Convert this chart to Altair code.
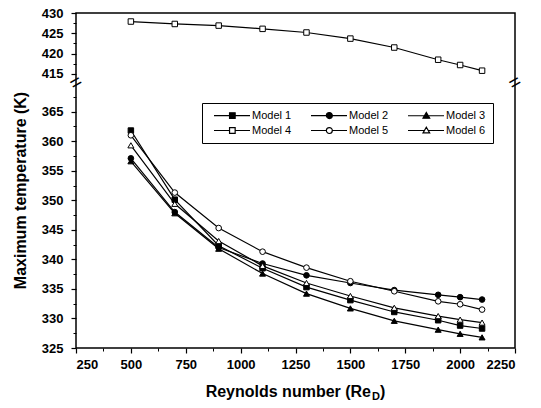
import altair as alt
import pandas as pd

# ---------------- data ----------------
re_vals = [500, 700, 900, 1100, 1300, 1500, 1700, 1900, 2000, 2100]
models = ["Model 1", "Model 2", "Model 3", "Model 4", "Model 5", "Model 6"]
model1 = [361.8, 350.1, 342.3, 338.5, 335.3, 333.1, 331.1, 329.7, 328.8, 328.3]
model2 = [357.1, 348.0, 342.0, 339.3, 337.3, 336.0, 334.8, 334.0, 333.6, 333.2]
model3 = [356.6, 347.8, 341.8, 337.6, 334.2, 331.7, 329.6, 328.1, 327.4, 326.8]
model4 = [427.9, 427.3, 426.9, 426.1, 425.2, 423.7, 421.5, 418.5, 417.2, 415.8]
model5 = [361.0, 351.3, 345.3, 341.3, 338.6, 336.3, 334.6, 332.9, 332.4, 331.5]
model6 = [359.3, 349.4, 343.1, 338.9, 336.0, 333.8, 331.8, 330.4, 329.8, 329.3]

x_ticks = [250, 500, 750, 1000, 1250, 1500, 1750, 2000, 2250]
x_minor = [375, 625, 875, 1125, 1375, 1625, 1875, 2125]
y_ticks = [325, 330, 335, 340, 345, 350, 355, 360, 365, 415, 420, 425, 430]
y_minor = [327.5, 332.5, 337.5, 342.5, 347.5, 352.5, 357.5, 362.5, 367.5,
           417.5, 422.5, 427.5]
x_title = ["Reynolds number (Re", "D", ")"]
y_title = "Maximum temperature (K)"

series = [model1, model2, model3, model4, model5, model6]
rows = []
for m, vals in zip(models, series):
    for r, v in zip(re_vals, vals):
        rows.append({"Re": r, "T": v, "Model": m})
df = pd.DataFrame(rows)

# ---------------- styles ----------------
W, H = 439, 335
FONT = "Liberation Sans"
x_domain = [250, 2250]
# broken y axis: lower segment 325-369, upper 414-430
y_domain = [325, 369, 414, 430]
y_range = [H, 75, 65, 0]
gap_mid = (y_domain[1] + y_domain[2]) / 2

xscale = alt.Scale(domain=x_domain, nice=False, zero=False)
yscale = alt.Scale(domain=y_domain, range=y_range, nice=False, zero=False)

marker_shapes = ["square", "circle", "triangle-up", "square", "circle", "triangle-up"]
marker_fills = ["black", "black", "black", "white", "white", "white"]
marker_sizes = {"square": 30, "circle": 32, "triangle-up": 36}
open_models = [m for m, f in zip(models, marker_fills) if f == "white"]

# legend symbols: line with a marker in the middle
sq = "M-0.15,0H4.3M5.9,0H10.15M4.3,-0.8H5.9V0.8H4.3Z"
ci = ("M-0.15,0H4.25M5.95,0H10.15M4.25,0A0.85,0.85,0,1,0,5.95,0"
      "A0.85,0.85,0,1,0,4.25,0Z")
tr = "M-0.15,0H4.55M5.65,0H10.15M5.1,-0.95L6.05,0.7H4.15Z"
path_of = {"square": sq, "circle": ci, "triangle-up": tr}
# legend is filled column by column: order so rows read Model 1-3, 4-6
leg_order = [0, 3, 1, 4, 2, 5]
legend_domain = [models[i] for i in leg_order]
legend_shapes = [path_of[marker_shapes[i]] for i in leg_order]

base = alt.Chart(df)
fill_scale = alt.Scale(domain=models, range=marker_fills)

x_major = alt.X("Re:Q", scale=xscale, axis=alt.Axis(
    values=x_ticks, orient="bottom", title=None, format="d", grid=False,
    domain=False, tickSize=5, tickColor="black", tickWidth=1.2,
    labelPadding=5, labelFont=FONT, labelFontSize=13, labelFontWeight="bold",
    labelColor="black"))
y_major = alt.Y("T:Q", scale=yscale, axis=alt.Axis(
    values=y_ticks, orient="left", title=y_title, format="d", grid=False,
    domain=False, tickSize=5, tickColor="black", tickWidth=1.2,
    labelPadding=8, labelFont=FONT, labelFontSize=13, labelFontWeight="bold",
    labelColor="black", titleFont=FONT, titleFontSize=16,
    titleFontWeight="bold", titleColor="black", titleX=-56, titleY=177,
    titleAngle=270, titleAlign="center", titleBaseline="middle"))

x_none = alt.X("Re:Q", scale=xscale, axis=None)
y_none = alt.Y("T:Q", scale=yscale, axis=None)

lines = base.mark_line(color="black", strokeWidth=1.2).encode(
    x=x_major, y=y_major, detail="Model:N")

# plot markers: one layer per marker shape
point_layers = []
for shp in ["square", "circle", "triangle-up"]:
    group = [m for m, s in zip(models, marker_shapes) if s == shp]
    point_layers.append(
        base.transform_filter(alt.FieldOneOfPredicate(field="Model", oneOf=group))
        .mark_point(shape=shp, filled=False, size=marker_sizes[shp], opacity=1,
                    color="black", strokeWidth=1)
        .encode(x=x_none, y=y_none,
                fill=alt.Fill("Model:N", scale=fill_scale, legend=None)))

minor = base.transform_filter("false").mark_point().encode(
    x=alt.X("Re:Q", scale=xscale, axis=alt.Axis(
        values=x_minor, orient="bottom", title=None, labels=False, grid=False,
        domain=False, tickSize=3, tickColor="black", tickWidth=1)),
    y=alt.Y("T:Q", scale=yscale, axis=alt.Axis(
        values=y_minor, orient="left", title=None, labels=False, grid=False,
        domain=False, tickSize=3, tickColor="black", tickWidth=1)))

open_expr = "indexof(" + str(open_models) + ", datum.value) >= 0 ? 'white' : 'black'"
leg = alt.Legend(
    orient="none", legendX=126, legendY=90, columns=3,
    title=None, labelFont=FONT, labelFontSize=11, labelColor="black",
    symbolSize=49, symbolStrokeWidth=1.2, symbolStrokeColor="black",
    symbolFillColor=alt.ExprRef(expr=open_expr), symbolOpacity=1,
    labelOffset=32, columnPadding=14, rowPadding=3, padding=7,
    strokeColor="black", cornerRadius=0)

# invisible layer that only carries the legend
legend_layer = base.mark_point(filled=False, size=49, opacity=0, color="black").encode(
    x=x_none, y=y_none,
    shape=alt.Shape("Model:N", scale=alt.Scale(domain=legend_domain, range=legend_shapes),
                    legend=leg),
    fill=alt.Fill("Model:N", scale=fill_scale, legend=None))

breaks = alt.Chart(pd.DataFrame({"Re": x_domain, "T": [gap_mid, gap_mid]})).mark_text(
    text="=", font=FONT, fontSize=20, angle=330, color="black").encode(
    x=x_none, y=y_none)

t1 = alt.Chart(pd.DataFrame({"t": [x_title[0]]})).mark_text(
    font=FONT, fontSize=16, fontWeight="bold", align="right", baseline="middle",
    color="black").encode(x=alt.value(295), y=alt.value(379), text="t:N")
t2 = alt.Chart(pd.DataFrame({"t": [x_title[1]]})).mark_text(
    font=FONT, fontSize=11, fontWeight="bold", align="left", baseline="middle",
    color="black").encode(x=alt.value(296), y=alt.value(384), text="t:N")
t3 = alt.Chart(pd.DataFrame({"t": [x_title[2]]})).mark_text(
    font=FONT, fontSize=16, fontWeight="bold", align="left", baseline="middle",
    color="black").encode(x=alt.value(304), y=alt.value(379), text="t:N")

chart = alt.layer(lines, *point_layers, minor, legend_layer, breaks, t1, t2, t3
                  ).resolve_axis(x="independent", y="independent").properties(
    width=W, height=H,
    padding={"left": 76, "top": 13, "right": 26, "bottom": 60},
    autosize=alt.AutoSizeParams(type="none"),
    background="white").configure_view(stroke="black", strokeWidth=1.5)

chart.save("out.html", embed_options={"renderer": "svg", "actions": False})
